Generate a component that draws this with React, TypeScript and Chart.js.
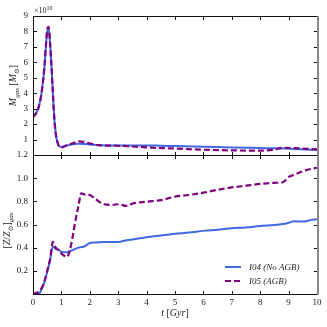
import React, { useEffect, useRef } from 'react';
import { Chart, registerables } from 'chart.js';
Chart.register(...registerables);

// ---- Data ----
// Top panel: gas mass in units of 1e10 Msun
const tGas = [0, 0.1, 0.2, 0.3, 0.4, 0.45, 0.5, 0.55, 0.6, 0.65, 0.7, 0.75, 0.8, 0.85, 0.9, 1.0, 1.1, 1.2, 1.4, 1.6, 1.8, 2.0, 2.4, 3.0, 3.5, 4.0, 4.5, 5.0, 6.0, 7.0, 8.0, 8.5, 8.8, 9.2, 10.0];
const gasI04 = [2.55, 2.7, 3.1, 4.0, 5.6, 6.9, 8.0, 8.2, 7.2, 5.8, 4.0, 2.4, 1.4, 0.9, 0.62, 0.52, 0.56, 0.62, 0.7, 0.73, 0.72, 0.68, 0.63, 0.62, 0.62, 0.62, 0.6, 0.58, 0.54, 0.49, 0.45, 0.43, 0.42, 0.39, 0.33];
const gasI05 = [2.45, 2.65, 3.1, 4.0, 5.7, 7.0, 8.1, 8.3, 7.3, 5.8, 4.0, 2.4, 1.4, 0.9, 0.62, 0.5, 0.55, 0.65, 0.75, 0.88, 0.85, 0.75, 0.62, 0.6, 0.55, 0.5, 0.45, 0.42, 0.34, 0.3, 0.28, 0.35, 0.47, 0.44, 0.36];

// Bottom panel: gas metallicity [Z/Zsun]
const tZ = [0, 0.2, 0.3, 0.4, 0.5, 0.6, 0.7, 0.8, 0.9, 1.0, 1.1, 1.2, 1.3, 1.4, 1.5, 1.6, 1.7, 1.8, 2.0, 2.2, 2.5, 2.8, 3.0, 3.3, 3.5, 4.0, 4.5, 5.0, 5.5, 6.0, 6.5, 7.0, 7.5, 8.0, 8.5, 8.8, 9.0, 9.2, 9.5, 9.8, 10.0];
const zI04 = [0, 0.0, 0.04, 0.1, 0.19, 0.29, 0.41, 0.39, 0.38, 0.365, 0.36, 0.36, 0.37, 0.38, 0.39, 0.4, 0.405, 0.41, 0.44, 0.445, 0.45, 0.45, 0.45, 0.465, 0.47, 0.49, 0.505, 0.52, 0.53, 0.545, 0.555, 0.567, 0.575, 0.587, 0.595, 0.604, 0.615, 0.628, 0.625, 0.64, 0.645];
const zI05 = [0, 0.02, 0.05, 0.11, 0.2, 0.3, 0.45, 0.4, 0.38, 0.35, 0.33, 0.32, 0.38, 0.5, 0.64, 0.76, 0.87, 0.86, 0.855, 0.82, 0.775, 0.77, 0.775, 0.76, 0.78, 0.797, 0.81, 0.84, 0.855, 0.875, 0.9, 0.92, 0.935, 0.95, 0.96, 0.965, 1.01, 1.03, 1.06, 1.08, 1.09];

const seriesLabels = ['I04 (No AGB)', 'I05 (AGB)'];

const BLUE = '#4169e1';
const PURPLE = '#800080';
const FONT = "'Liberation Serif', 'DejaVu Serif', serif";

type Part = { t: string; it?: boolean; s: number; dy?: number };

function drawRich(ctx: CanvasRenderingContext2D, parts: Part[], x: number, y: number, align: 'center' | 'left' = 'center') {
  let w = 0;
  for (const p of parts) {
    ctx.font = `${p.it ? 'italic ' : ''}${p.s}px ${FONT}`;
    w += ctx.measureText(p.t).width;
  }
  let cx = align === 'center' ? x - w / 2 : x;
  ctx.textAlign = 'left';
  ctx.textBaseline = 'alphabetic';
  for (const p of parts) {
    ctx.font = `${p.it ? 'italic ' : ''}${p.s}px ${FONT}`;
    ctx.fillText(p.t, cx, y + (p.dy || 0));
    cx += ctx.measureText(p.t).width;
  }
}

const framePlugin = {
  id: 'frame',
  afterDatasetsDraw(chart: any) {
    const { ctx, chartArea: a, scales } = chart;
    const L = Math.round(a.left) + 0.5;
    const R = Math.round(a.right) + 0.5;
    const T = Math.round(a.top) + 0.5;
    const B = Math.round(a.bottom) + 0.5;
    ctx.save();
    ctx.strokeStyle = '#111';
    ctx.lineWidth = 1;
    ctx.beginPath();
    ctx.moveTo(R, T); ctx.lineTo(L, T); ctx.lineTo(L, B); ctx.lineTo(R, B);
    ctx.stroke();
    const tl = 3.5;
    const xs = scales.x;
    ctx.beginPath();
    for (const tk of xs.ticks) {
      const px = Math.round(xs.getPixelForValue(tk.value)) + 0.5;
      ctx.moveTo(px, B); ctx.lineTo(px, B - tl);
      ctx.moveTo(px, T); ctx.lineTo(px, T + tl);
    }
    const ys = scales.y;
    for (const tk of ys.ticks) {
      const py = Math.round(ys.getPixelForValue(tk.value)) + 0.5;
      ctx.moveTo(L, py); ctx.lineTo(L + tl, py);
      ctx.moveTo(R, py); ctx.lineTo(R - tl, py);
    }
    ctx.stroke();
    // right spine: grey and slightly wider
    ctx.strokeStyle = '#8a8a8a';
    ctx.lineWidth = 2;
    ctx.beginPath();
    ctx.moveTo(R + 0.5, T - 0.5); ctx.lineTo(R + 0.5, B + 0.5);
    ctx.stroke();
    ctx.restore();
  },
};

const topTextPlugin = {
  id: 'topText',
  afterDraw(chart: any) {
    const { ctx, chartArea: a } = chart;
    ctx.save();
    ctx.fillStyle = '#222';
    drawRich(ctx, [{ t: '×10', s: 8 }, { t: '10', s: 6, dy: -3.5 }], a.left + 1, 13, 'left');
    ctx.translate(16, (a.top + a.bottom) / 2);
    ctx.rotate(-Math.PI / 2);
    drawRich(ctx, [
      { t: 'M', it: true, s: 10 },
      { t: 'gas', it: true, s: 7, dy: 2.5 },
      { t: ' [', s: 10 },
      { t: 'M', it: true, s: 10 },
      { t: '⊙', s: 7, dy: 2.5 },
      { t: ']', s: 10 },
    ], 0, 0);
    ctx.restore();
  },
};

const bottomTextPlugin = {
  id: 'bottomText',
  afterDraw(chart: any) {
    const { ctx, chartArea: a } = chart;
    ctx.save();
    ctx.fillStyle = '#222';
    drawRich(ctx, [
      { t: 't', it: true, s: 10 },
      { t: ' [', s: 10 },
      { t: 'Gyr', it: true, s: 10 },
      { t: ']', s: 10 },
    ], (a.left + a.right) / 2, 316);
    ctx.save();
    ctx.translate(10, (a.top + a.bottom) / 2 + 6);
    ctx.rotate(-Math.PI / 2);
    drawRich(ctx, [
      { t: '[', s: 10 },
      { t: 'Z', it: true, s: 10 },
      { t: '/', s: 10 },
      { t: 'Z', it: true, s: 10 },
      { t: '⊙', s: 7, dy: 2.5 },
      { t: ']', s: 10 },
      { t: 'gas', it: true, s: 7, dy: 2.5 },
    ], 0, 0);
    ctx.restore();
    // legend
    const ds = chart.data.datasets;
    const order = [1, 0];
    const x0 = a.right - 92;
    order.forEach((di, k) => {
      const d = ds[di];
      const y = a.bottom - 27 + k * 14;
      ctx.save();
      ctx.strokeStyle = d.borderColor;
      ctx.lineWidth = d.borderWidth;
      ctx.setLineDash(d.borderDash || []);
      ctx.beginPath();
      ctx.moveTo(x0, y);
      ctx.lineTo(x0 + 16, y);
      ctx.stroke();
      ctx.restore();
      drawRich(ctx, [{ t: d.label, it: true, s: 9 }], x0 + 24, y + 3, 'left');
    });
    ctx.restore();
  },
};

function mkData(t: number[], v: number[]) {
  return t.map((x, i) => ({ x, y: v[i] }));
}

const tickFont = { family: FONT, size: 9 };

export default function App() {
  const topRef = useRef<HTMLCanvasElement>(null);
  const botRef = useRef<HTMLCanvasElement>(null);

  useEffect(() => {
    const top = new Chart(topRef.current!, {
      type: 'line',
      data: {
        datasets: [
          { label: seriesLabels[1], data: mkData(tGas, gasI05), borderColor: PURPLE, borderWidth: 2.2, borderDash: [6, 3], pointRadius: 0, fill: false, cubicInterpolationMode: 'monotone' },
          { label: seriesLabels[0], data: mkData(tGas, gasI04), borderColor: BLUE, borderWidth: 2, pointRadius: 0, fill: false, cubicInterpolationMode: 'monotone' },
        ],
      },
      options: {
        responsive: false,
        animation: false,
        events: [],
        layout: { padding: { left: 8, right: 10, top: 16, bottom: 172 } },
        plugins: { legend: { display: false }, tooltip: { enabled: false } },
        scales: {
          x: { type: 'linear', min: 0, max: 10, display: false, ticks: { stepSize: 1 } },
          y: {
            type: 'linear', min: 0, max: 9,
            ticks: { stepSize: 1, font: tickFont, color: '#222', padding: 5, callback: (v: any) => (v === 0 ? '' : String(v)) },
            grid: { display: false, drawTicks: false },
            border: { display: false },
            afterFit: (s: any) => { s.width = 25; },
          },
        },
      } as any,
      plugins: [framePlugin, topTextPlugin],
    });

    const bot = new Chart(botRef.current!, {
      type: 'line',
      data: {
        datasets: [
          { label: seriesLabels[1], data: mkData(tZ, zI05), borderColor: PURPLE, borderWidth: 2.2, borderDash: [6, 3], pointRadius: 0, fill: false, cubicInterpolationMode: 'monotone' },
          { label: seriesLabels[0], data: mkData(tZ, zI04), borderColor: BLUE, borderWidth: 2, pointRadius: 0, fill: false, cubicInterpolationMode: 'monotone' },
        ],
      },
      options: {
        responsive: false,
        animation: false,
        events: [],
        layout: { padding: { left: 8, right: 10, top: 155, bottom: 0 } },
        plugins: { legend: { display: false }, tooltip: { enabled: false } },
        scales: {
          x: {
            type: 'linear', min: 0, max: 10,
            ticks: { stepSize: 1, font: tickFont, color: '#222', padding: 3, maxRotation: 0 },
            grid: { display: false, drawTicks: false },
            border: { display: false },
            afterFit: (s: any) => { s.height = 33; },
          },
          y: {
            type: 'linear', min: 0, max: 1.2,
            ticks: { stepSize: 0.2, font: tickFont, color: '#222', padding: 5, callback: (v: any) => (Math.abs(v) < 1e-9 ? '' : Number(v).toFixed(1)) },
            grid: { display: false, drawTicks: false },
            border: { display: false },
            afterFit: (s: any) => { s.width = 25; },
          },
        },
      } as any,
      plugins: [framePlugin, bottomTextPlugin],
    });

    return () => { top.destroy(); bot.destroy(); };
  }, []);

  return (
    <div style={{ position: 'fixed', left: 0, top: 0, width: 327, height: 327, background: '#fff' }}>
      <canvas ref={topRef} width={327} height={327} style={{ position: 'absolute', left: 0, top: 0 }} />
      <canvas ref={botRef} width={327} height={327} style={{ position: 'absolute', left: 0, top: 0 }} />
    </div>
  );
}
